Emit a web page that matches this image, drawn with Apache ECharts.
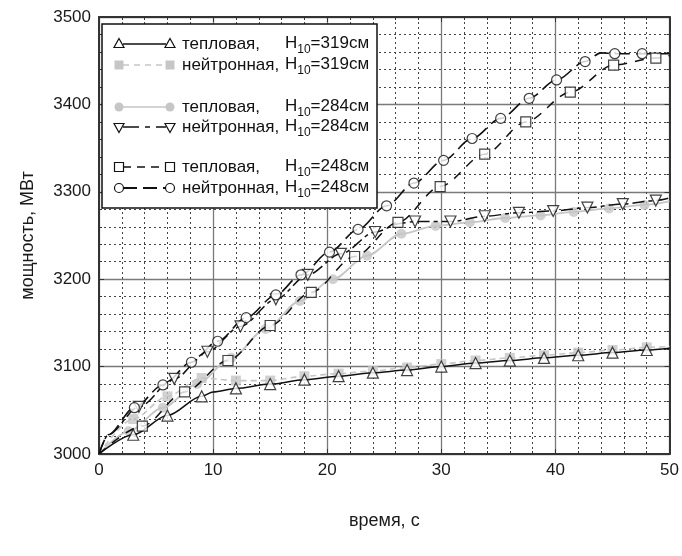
<!DOCTYPE html>
<html><head><meta charset="utf-8">
<script src="https://cdn.jsdelivr.net/npm/echarts@6/dist/echarts.min.js"></script>
<style>html,body{margin:0;padding:0;background:#fff}#c{width:682px;height:556px}</style>
</head><body><div id="c"></div>
<script>
// ---- data (time, s ; power, MW) ----
const xTickValues = [0, 10, 20, 30, 40, 50];
const yTickValues = [3000, 3100, 3200, 3300, 3400, 3500];

// H10 = 319 cm
const thermal319Marks = [[3,3022],[6,3044],[9,3066],[12,3075],[15,3080],[18,3085],[21,3089],[24,3093],[27,3096],[30,3100],[33,3104],[36,3107],[39,3110],[42,3113],[45,3116],[48,3119]];
const thermal319Extra = [[0,3000],[10,3071],[50,3121]];
const neutron319Marks = [[3,3040],[6,3066],[9,3087],[12,3084],[15,3084],[18,3089],[21,3092],[24,3095],[27,3099],[30,3103],[33,3107],[36,3110],[39,3113],[42,3116],[45,3119],[48,3122]];
const neutron319Extra = [[0,3000],[50,3123]];
// H10 = 284 cm
const thermal284Marks = [[2.6,3026],[5.6,3053],[8.6,3080],[11.6,3110],[14.6,3143],[17.6,3175],[20.5,3200],[23.5,3227],[26.5,3252],[29.5,3261],[32.5,3265],[35.6,3270],[38.7,3273],[41.6,3277],[44.7,3281],[47.8,3285]];
const thermal284Extra = [[0,3000],[50,3289]];
const neutron284Marks = [[3.5,3054],[6.6,3086],[9.5,3117],[12.4,3146],[15.5,3177],[18.3,3205],[21.2,3229],[24.2,3254],[27.7,3266],[30.8,3266],[33.8,3272],[36.8,3276],[39.8,3278],[42.8,3282],[45.9,3286],[48.8,3290]];
const neutron284Extra = [[0,3000],[0.8,3022],[26.5,3264],[50,3293]];
// H10 = 248 cm
const thermal248Marks = [[3.8,3032],[7.5,3071],[11.3,3107],[15.0,3147],[18.6,3185],[22.4,3226],[26.2,3265],[29.9,3306],[33.8,3343],[37.4,3380],[41.3,3414],[45.1,3445],[48.8,3453]];
const thermal248Extra = [[0,3000],[50,3456]];
const neutron248Marks = [[3.1,3053],[5.6,3079],[8.1,3105],[10.4,3129],[12.9,3156],[15.5,3182],[17.7,3205],[20.2,3231],[22.7,3257],[25.2,3284],[27.6,3310],[30.2,3336],[32.7,3361],[35.2,3384],[37.7,3407],[40.1,3428],[42.6,3449],[45.2,3458],[47.6,3458]];
const neutron248Extra = [[0,3000],[0.8,3022],[44,3459],[50,3458]];

const seriesNames = ['тепловая, H10=319см','нейтронная, H10=319см','тепловая, H10=284см','нейтронная, H10=284см','тепловая, H10=248см','нейтронная, H10=248см'];

// ---- helpers ----
function curve(marks, extra) {
  return marks.concat(extra).sort((a, b) => a[0] - b[0]);
}
const FONT = '"Liberation Sans", Arial, sans-serif';
const BLACK = '#111';
const GRAY = '#c6c6c6';
const hollow = { color: '#fff', borderColor: BLACK, borderWidth: 1.2 };
const filled = { color: GRAY, borderWidth: 0 };
const triUp = 'path://M0,-10L8.66,5L-8.66,5Z';
const triDown = 'path://M0,10L8.66,-5L-8.66,-5Z';

function mkSeries(name, marks, extra, lineStyle, symbol, size, itemStyle, z) {
  return [
    { name: name, type: 'line', data: curve(marks, extra), showSymbol: false, smooth: 0.3, smoothMonotone: 'x',
      lineStyle: lineStyle, z: z, silent: true, animation: false },
    { name: name, type: 'scatter', data: marks, symbol: symbol, symbolSize: size, itemStyle: itemStyle, z: z + 1, animation: false }
  ];
}

const series = [].concat(
  mkSeries(seriesNames[1], neutron319Marks, neutron319Extra, { color: GRAY, width: 1.6, type: [6, 4] }, 'rect', 10, filled, 2),
  mkSeries(seriesNames[2], thermal284Marks, thermal284Extra, { color: GRAY, width: 1.8, type: 'solid' }, 'circle', 10, filled, 2),
  mkSeries(seriesNames[0], thermal319Marks, thermal319Extra, { color: BLACK, width: 1.5, type: 'solid' }, triUp, 11, hollow, 4),
  mkSeries(seriesNames[3], neutron284Marks, neutron284Extra, { color: BLACK, width: 1.5, type: [12, 4, 4, 4] }, triDown, 11, hollow, 4),
  mkSeries(seriesNames[4], thermal248Marks, thermal248Extra, { color: BLACK, width: 1.5, type: [9, 8] }, 'rect', 10, hollow, 4),
  mkSeries(seriesNames[5], neutron248Marks, neutron248Extra, { color: BLACK, width: 1.6, type: [15, 6] }, 'circle', 10, hollow, 4)
);

// ---- legend drawn as graphic ----
const LX = 102, LY = 24, LW = 275, LH = 184;
const rows = [44, 65, 107, 127, 167, 188];
const SX1 = 119, SX2 = 170, TX = 182, HX = 285;
const legendDefs = [
  { sym: 'triUp', fill: false, line: { stroke: BLACK, lineWidth: 1.4 }, a: 'тепловая,', b: '319' },
  { sym: 'rect', fill: true, line: { stroke: GRAY, lineWidth: 1.6, lineDash: [6, 5] }, a: 'нейтронная,', b: '319' },
  { sym: 'circle', fill: true, line: { stroke: GRAY, lineWidth: 1.6 }, a: 'тепловая,', b: '284' },
  { sym: 'triDown', fill: false, line: { stroke: BLACK, lineWidth: 1.6, lineDash: [16, 6, 5, 6] }, a: 'нейтронная,', b: '284' },
  { sym: 'rect', fill: false, line: { stroke: BLACK, lineWidth: 1.6, lineDash: [8, 6] }, a: 'тепловая,', b: '248' },
  { sym: 'circle', fill: false, line: { stroke: BLACK, lineWidth: 1.8, lineDash: [14, 6] }, a: 'нейтронная,', b: '248' }
];
function symbolGraphic(kind, fill, cx, cy) {
  const st = fill ? { fill: GRAY, stroke: null } : { fill: '#fff', stroke: BLACK, lineWidth: 1.2 };
  if (kind === 'rect') return { type: 'rect', shape: { x: cx - 4.5, y: cy - 4.5, width: 9, height: 9 }, style: st, z: 102 };
  if (kind === 'circle') return { type: 'circle', shape: { cx: cx, cy: cy, r: 4.5 }, style: st, z: 102 };
  if (kind === 'triUp') return { type: 'polygon', shape: { points: [[cx, cy - 5.5], [cx + 5, cy + 3.5], [cx - 5, cy + 3.5]] }, style: st, z: 102 };
  return { type: 'polygon', shape: { points: [[cx, cy + 5.5], [cx + 5, cy - 3.5], [cx - 5, cy - 3.5]] }, style: st, z: 102 };
}
const graphics = [{ type: 'rect', shape: { x: LX, y: LY, width: LW, height: LH }, style: { fill: '#fff', stroke: '#111', lineWidth: 1.5 }, z: 100 }];
legendDefs.forEach((d, i) => {
  const y = rows[i];
  graphics.push({ type: 'line', shape: { x1: SX1 + 4, y1: y, x2: SX2 - 4, y2: y }, style: d.line, z: 101 });
  graphics.push(symbolGraphic(d.sym, d.fill, SX1, y));
  graphics.push(symbolGraphic(d.sym, d.fill, SX2, y));
  graphics.push({ type: 'text', x: TX, y: y, style: { text: d.a, fontSize: 17, fontFamily: FONT, fill: '#111', verticalAlign: 'middle' }, z: 102 });
  graphics.push({ type: 'text', x: HX, y: y - 1, style: {
      text: '{m|H}{s|10}{m|=' + d.b + 'см}', verticalAlign: 'middle', fontFamily: FONT, fill: '#111',
      rich: { m: { fontSize: 17, lineHeight: 26, verticalAlign: 'middle', fontFamily: FONT, fill: '#111' },
              s: { fontSize: 12, lineHeight: 12, verticalAlign: 'bottom', fontFamily: FONT, fill: '#111' } } }, z: 102 });
});

// ---- axes ----
const axisCommon = {
  type: 'value',
  axisLine: { show: true, onZero: false, lineStyle: { color: '#333', width: 2 } },
  axisTick: { show: true, inside: true, length: 5, lineStyle: { color: '#333' } },
  minorTick: { show: true, splitNumber: 5, length: 3, lineStyle: { color: '#333' } },
  axisLabel: { fontSize: 17, color: '#1a1a1a', fontFamily: FONT, formatter: v => String(v) },
  nameTextStyle: { fontSize: 18, color: '#1a1a1a', fontFamily: FONT }
};
const option = {
  backgroundColor: '#fff',
  animation: false,
  grid: { left: 99, right: 8, top: 17, bottom: 102, containLabel: false },
  xAxis: [
    Object.assign({}, axisCommon, { min: xTickValues[0], max: xTickValues[xTickValues.length - 1], interval: 10, position: 'bottom',
      name: 'время, с', nameLocation: 'middle', nameGap: 58,
      axisLabel: Object.assign({}, axisCommon.axisLabel, { margin: 8 }),
      splitLine: { show: true, lineStyle: { color: '#7a7a7a', width: 1.3 } },
      minorSplitLine: { show: true, lineStyle: { color: '#444', width: 1, type: [2, 3] } } }),
    Object.assign({}, axisCommon, { min: xTickValues[0], max: xTickValues[xTickValues.length - 1], interval: 10, position: 'top',
      axisLabel: { show: false }, splitLine: { show: false } })
  ],
  yAxis: [
    Object.assign({}, axisCommon, { min: yTickValues[0], max: yTickValues[yTickValues.length - 1], interval: 100, position: 'left',
      name: 'мощность, МВт', nameLocation: 'middle', nameGap: 62, nameRotate: 90,
      axisLabel: Object.assign({}, axisCommon.axisLabel, { margin: 8 }),
      splitLine: { show: true, lineStyle: { color: '#7a7a7a', width: 1.3 } },
      minorSplitLine: { show: true, lineStyle: { color: '#444', width: 1, type: [2, 3] } } }),
    Object.assign({}, axisCommon, { min: yTickValues[0], max: yTickValues[yTickValues.length - 1], interval: 100, position: 'right',
      axisLabel: { show: false }, splitLine: { show: false } })
  ],
  graphic: graphics,
  series: series
};
const chart = echarts.init(document.getElementById('c'), null, { renderer: 'canvas' });
chart.setOption(option);
</script>
</body></html>
